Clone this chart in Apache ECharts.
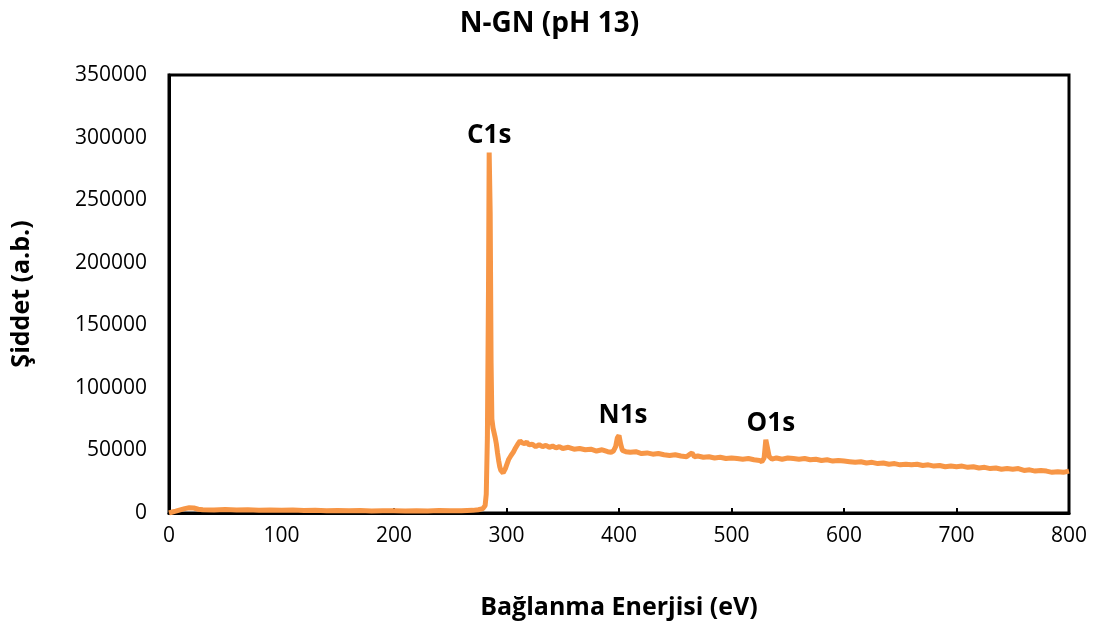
<!DOCTYPE html>
<html>
<head>
<meta charset="utf-8">
<script src="https://cdn.jsdelivr.net/npm/echarts@6/dist/echarts.min.js"></script>
<style>html,body{margin:0;padding:0;background:#fff}#c{width:1099px;height:628px}</style>
</head>
<body>
<div id="c"></div>
<script>
const titleText = 'N-GN (pH 13)';
const xName = 'Bağlanma Enerjisi (eV)';
const yName = 'Şiddet (a.b.)';
const xMin = 0, xMax = 800, xStep = 100;
const yMin = 0, yMax = 350000, yStep = 50000;

const energies = [0,3,6,10,14,18,22,26,30,40,50,60,70,80,90,100,110,120,130,140,150,160,170,180,190,200,210,220,230,240,250,260,270,275,279,281,282,283,284,284.6,285.5,286.3,287,288,289,290,291,292,293,294,295,296,297,298,299,300,302,304,306,308,310,312,314,316,318,320,323,326,329,332,335,338,341,344,347,350,355,360,365,370,375,380,385,390,393,395,397,398.5,400,401.5,403,406,410,415,420,425,430,435,440,445,450,455,460,463,465,467,470,475,480,485,490,495,500,505,510,515,520,525,527,529,530.5,532,533.5,536,540,545,550,555,560,565,570,575,580,585,590,595,600,605,610,615,620,625,630,635,640,645,650,655,660,665,670,675,680,685,690,695,700,705,710,715,720,725,730,735,740,745,750,755,760,765,770,775,780,785,790,795,800];
const intensities = [0,800,1500,2500,3500,4200,4000,3000,2600,2400,2700,2300,2500,2200,2400,2100,2300,1900,2100,1800,2000,1700,1900,1600,1800,1700,1500,1800,1600,1900,1700,1800,2100,2600,3500,6000,15000,60000,180000,288000,240000,120000,75000,68000,64000,60000,55000,48000,42000,37000,34000,32500,32000,33000,35500,38000,43000,46000,48500,52000,55000,57500,56000,55500,56500,54500,55000,53000,54500,53000,54000,52500,53500,52000,53000,51500,52500,51000,51500,50500,51000,49500,50500,49000,48500,49500,53000,60000,62000,55000,50000,49000,48500,49000,47500,48000,47000,47500,46500,46000,46500,45500,45000,47000,48000,45000,45500,44500,45000,44000,44500,43500,44000,43500,43000,43500,42500,42000,41000,44000,58500,52000,45000,43000,44000,43000,44000,43500,43000,43500,42500,43000,42000,42500,41500,42000,41500,41000,40500,41000,40000,40500,39500,40000,39000,39500,38500,39000,38500,39000,38000,38500,37500,38000,37000,37500,37000,37500,36500,37000,36000,36500,35500,36000,35000,35500,35000,35500,34000,34500,33500,34000,33500,32500,33000,32500,33500];

const peakNames = ['C1s', 'N1s', 'O1s'];
const peakEnergies = [284.6, 400, 530.5];
const peakIntensities = [288000, 62000, 58500];

const FONT = '"Open Sans", "Noto Sans", sans-serif';
const chart = echarts.init(document.getElementById('c'), null, {renderer: 'canvas'});
const lineData = energies.map((e, i) => [e, intensities[i]]);
const markData = peakNames.map((n, i) => ({
  name: n, coord: [peakEnergies[i], peakIntensities[i]],
  label: {offset: i === 0 ? [0, -17] : (i === 1 ? [4, -20] : [5, -16])}
}));

chart.setOption({
  animation: false,
  title: {
    text: titleText, left: 'center', top: 5,
    textStyle: {fontFamily: FONT, fontWeight: 'bold', fontSize: 28, color: '#000'}
  },
  grid: {left: 169, right: 30, top: 75, bottom: 115, show: true, borderColor: '#000', borderWidth: 3, backgroundColor: 'transparent'},
  xAxis: {
    type: 'value', min: xMin, max: xMax, interval: xStep,
    name: xName, nameLocation: 'middle', nameGap: 82,
    nameTextStyle: {fontFamily: FONT, fontWeight: 'bold', fontSize: 25, color: '#000'},
    axisLine: {show: true, lineStyle: {color: '#000', width: 3}},
    axisTick: {show: true, inside: true, length: 5, lineStyle: {color: '#000', width: 2}},
    axisLabel: {fontFamily: FONT, fontSize: 21, color: '#000', margin: 13},
    splitLine: {show: false}
  },
  yAxis: {
    type: 'value', min: yMin, max: yMax, interval: yStep,
    name: yName, nameLocation: 'middle', nameGap: 135, nameRotate: 90,
    nameTextStyle: {fontFamily: FONT, fontWeight: 'bold', fontSize: 25, color: '#000'},
    axisLine: {show: true, lineStyle: {color: '#000', width: 3}},
    axisTick: {show: false},
    axisLabel: {fontFamily: FONT, fontSize: 21, color: '#000', margin: 22, formatter: v => String(v)},
    splitLine: {show: false}
  },
  series: [{
    type: 'line', data: lineData, showSymbol: false, smooth: false,
    lineStyle: {color: '#F79646', width: 5},
    itemStyle: {color: '#F79646'},
    markPoint: {
      symbol: 'circle', symbolSize: 0,
      label: {show: true, formatter: '{b}', fontFamily: FONT, fontWeight: 'bold', fontSize: 26, color: '#000', position: 'inside'},
      data: markData
    }
  }]
});
</script>
</body>
</html>
